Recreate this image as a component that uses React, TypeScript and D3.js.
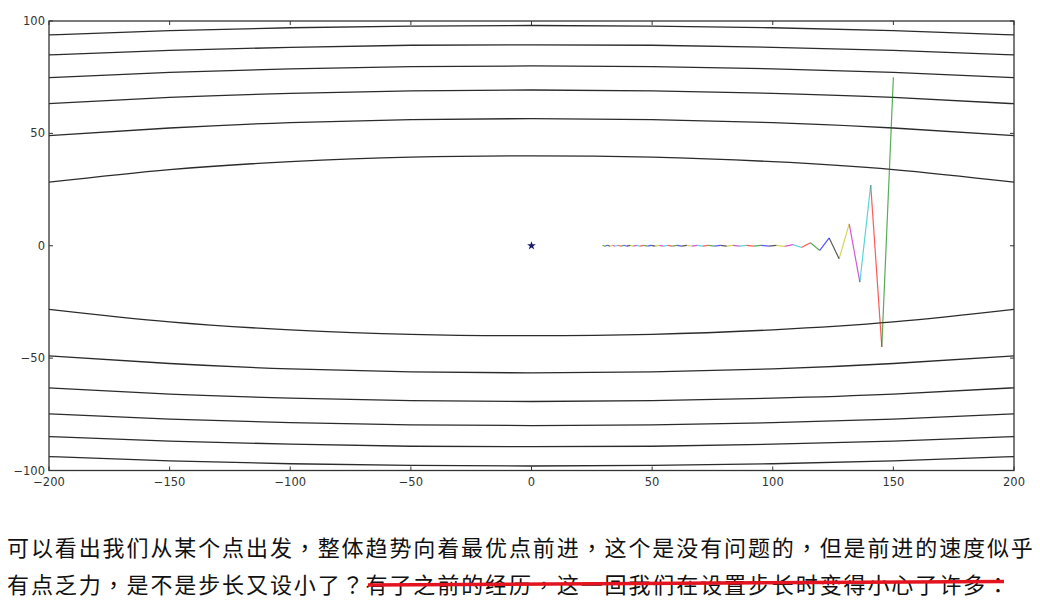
import { useRef, useEffect } from "react";
import * as d3 from "d3";

// gradient descent iterates (x, y)
const pathX = [
  150.0, 145.2, 140.6, 136.1, 131.7, 127.5, 123.4, 119.5, 115.6, 111.9,
  108.4, 104.9, 101.5, 98.3, 95.1, 92.1, 89.1, 86.3, 83.5, 80.9,
  78.3, 75.8, 73.3, 71.0, 68.7, 66.5, 64.4, 62.3, 60.3, 58.4,
  56.5, 54.7, 53.0, 51.3, 49.6, 48.1, 46.5, 45.0, 43.6, 42.2,
  40.9, 39.5, 38.3, 37.0, 35.9, 34.7, 33.6, 32.5, 31.5, 30.5, 29.5,
];
const pathY = [
  75, -45, 27, -16.2, 9.7, -5.8, 3.5, -2.1, 1.3, -0.8,
  0.5, -0.3, 0.2, -0.2, 0.2, -0.2, 0.2, -0.2, 0.2, -0.2,
  0.2, -0.2, 0.2, -0.2, 0.2, -0.2, 0.2, -0.2, 0.2, -0.2,
  0.2, -0.2, 0.2, -0.2, 0.2, -0.2, 0.2, -0.2, 0.2, -0.2,
  0.2, -0.2, 0.2, -0.2, 0.2, -0.2, 0.2, -0.2, 0.2, -0.2, 0.2,
];

// contour lines: half-height (|y|) at each x sample, mirrored above/below
const contourX = [-200, -150, -100, -50, 0, 50, 100, 150, 200];
const contourHalf = [
  [28.3, 33.9, 37.4, 39.4, 40.0, 39.4, 37.4, 33.9, 28.3],
  [49.0, 52.4, 54.8, 56.1, 56.6, 56.1, 54.8, 52.4, 49.0],
  [63.2, 66.0, 67.8, 68.9, 69.3, 68.9, 67.8, 66.0, 63.2],
  [74.8, 77.1, 78.7, 79.7, 80.0, 79.7, 78.7, 77.1, 74.8],
  [84.9, 86.9, 88.3, 89.2, 89.4, 89.2, 88.3, 86.9, 84.9],
  [93.8, 95.7, 97.0, 97.7, 98.0, 97.7, 97.0, 95.7, 93.8],
];

const xTicks = [-200, -150, -100, -50, 0, 50, 100, 150, 200];
const yTicks = [-100, -50, 0, 50, 100];

// matplotlib's classic colour cycle; the star took the first colour
const cycle = ["#0000ff", "#008000", "#ff0000", "#00bfbf", "#bf00bf", "#bfbf00", "#000000"];

const line1 = "可以看出我们从某个点出发，整体趋势向着最优点前进，这个是没有问题的，但是前进的速度似乎";
const line2a = "有点乏力，是不是步长又设小了？";
const line2b = "有了之前的经历，这一回我们在设置步长时变得小心了许多：";

const font = "'Noto Sans CJK SC', 'Noto Sans CJK JP', sans-serif";
const punctFont = "'Noto Sans CJK TC', 'Noto Sans CJK SC', sans-serif";
const punct = /[，？：]/;

export default function App() {
  const svgRef = useRef<SVGSVGElement>(null);
  const W = 1040;
  const H = 607;

  useEffect(() => {
    if (!svgRef.current) return;
    const svg = d3.select(svgRef.current);
    svg.selectAll("*").remove();

    const m = { left: 49, right: 1014, top: 21, bottom: 470.5 };
    const x = d3.scaleLinear().domain([-200, 200]).range([m.left, m.right]);
    const y = d3.scaleLinear().domain([-100, 100]).range([m.bottom, m.top]);

    svg.append("rect").attr("width", W).attr("height", H).attr("fill", "#fff");

    const defs = svg.append("defs");
    defs.append("clipPath").attr("id", "plot-clip")
      .append("rect").attr("x", m.left).attr("y", m.top)
      .attr("width", m.right - m.left).attr("height", m.bottom - m.top);

    const plot = svg.append("g").attr("clip-path", "url(#plot-clip)");

    // Contours
    const cLine = d3.line<[number, number]>()
      .x(d => x(d[0])).y(d => y(d[1])).curve(d3.curveNatural);
    contourHalf.forEach(hs => {
      [1, -1].forEach(sgn => {
        const pts = contourX.map((cx, i) => [cx, sgn * hs[i]] as [number, number]);
        plot.append("path").datum(pts).attr("d", cLine)
          .attr("fill", "none").attr("stroke", "#2b2b2b").attr("stroke-width", 1.3);
      });
    });

    // Optimum marker
    plot.append("path")
      .attr("d", d3.symbol().type(d3.symbolStar).size(24)())
      .attr("transform", `translate(${x(0)},${y(0)})`)
      .attr("fill", "#1a1a6e");

    // Descent path, one segment per step
    for (let i = 0; i < pathX.length - 1; i++) {
      plot.append("line")
        .attr("x1", x(pathX[i])).attr("y1", y(pathY[i]))
        .attr("x2", x(pathX[i + 1])).attr("y2", y(pathY[i + 1]))
        .attr("stroke", cycle[(i + 1) % cycle.length])
        .attr("stroke-width", 1.2).attr("opacity", 0.65);
    }

    // Frame
    svg.append("rect")
      .attr("x", m.left).attr("y", m.top)
      .attr("width", m.right - m.left).attr("height", m.bottom - m.top)
      .attr("fill", "none").attr("stroke", "#333").attr("stroke-width", 1.3);

    // Inward ticks on all four sides
    const tk = 4;
    const fmt = (t: number) => (t < 0 ? `\u2212${-t}` : `${t}`);
    xTicks.forEach(t => {
      svg.append("line").attr("x1", x(t)).attr("x2", x(t))
        .attr("y1", m.bottom).attr("y2", m.bottom - tk).attr("stroke", "#333");
      svg.append("line").attr("x1", x(t)).attr("x2", x(t))
        .attr("y1", m.top).attr("y2", m.top + tk).attr("stroke", "#333");
      svg.append("text").attr("x", x(t)).attr("y", m.bottom + 15)
        .attr("text-anchor", "middle").attr("font-family", "DejaVu Sans")
        .attr("font-size", 11.5).attr("fill", "#333").text(fmt(t));
    });
    yTicks.forEach(t => {
      svg.append("line").attr("y1", y(t)).attr("y2", y(t))
        .attr("x1", m.left).attr("x2", m.left + tk).attr("stroke", "#333");
      svg.append("line").attr("y1", y(t)).attr("y2", y(t))
        .attr("x1", m.right).attr("x2", m.right - tk).attr("stroke", "#333");
      svg.append("text").attr("x", m.left - 4).attr("y", y(t) + 4)
        .attr("text-anchor", "end").attr("font-family", "DejaVu Sans")
        .attr("font-size", 11.5).attr("fill", "#333").text(fmt(t));
    });

    // Caption below the figure; full-width punctuation centred in its cell
    const addRuns = (sel: d3.Selection<SVGTextElement, unknown, null, undefined>, s: string) => {
      s.split(/([，？：])/).filter(p => p.length > 0).forEach(p => {
        sel.append("tspan")
          .attr("font-family", punct.test(p) ? punctFont : font)
          .text(p);
      });
    };
    const t1 = svg.append("text").attr("x", 7).attr("y", 556)
      .attr("font-family", font).attr("font-size", 22).attr("letter-spacing", 1.9)
      .attr("fill", "#111");
    addRuns(t1, line1);
    const t2 = svg.append("text").attr("x", 7).attr("y", 593)
      .attr("font-family", font).attr("font-size", 22).attr("letter-spacing", 1.9)
      .attr("fill", "#111");
    addRuns(t2, line2a);
    addRuns(t2, line2b);

    // Red strike-through over the second half of line 2
    svg.append("line")
      .attr("x1", 368).attr("y1", 585).attr("x2", 1004).attr("y2", 581.5)
      .attr("stroke", "#e3141f").attr("stroke-width", 3.5);
  }, []);

  return (
    <div style={{ position: "absolute", left: 0, top: 0 }}>
      <svg ref={svgRef} width={W} height={H} style={{ display: "block" }} />
    </div>
  );
}
